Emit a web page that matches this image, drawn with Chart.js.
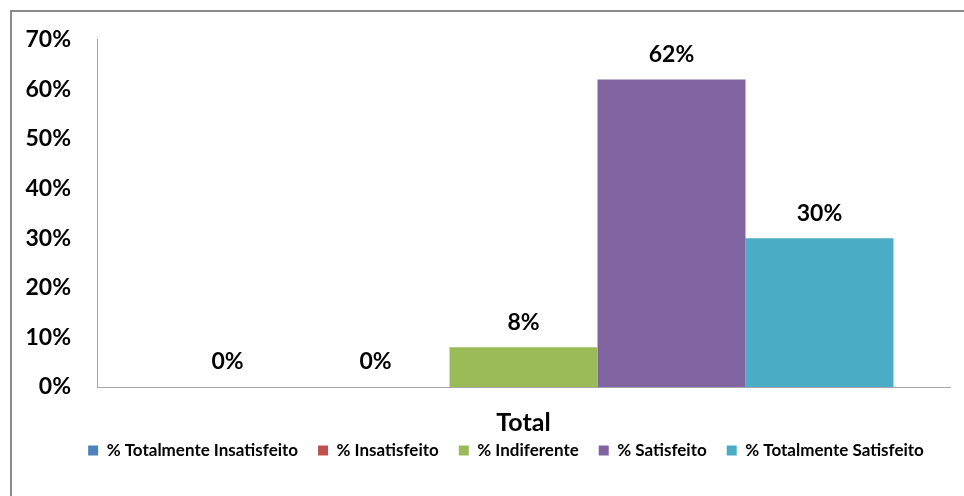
<!DOCTYPE html>
<html>
<head>
<meta charset="utf-8">
<script src="https://cdn.jsdelivr.net/npm/chart.js@4.4.1/dist/chart.umd.min.js"></script>
<style>
  html, body { margin: 0; padding: 0; background: #fff; overflow: hidden; }
  #frame {
    position: absolute; left: 10px; top: 10px;
    width: 1100px; height: 600px;
    border: 2px solid #8a8a8a;
  }
  #wrap { position: absolute; left: 12px; top: 0; width: 988px; height: 496px; }
</style>
</head>
<body>
<div id="frame"></div>
<div id="wrap"><canvas id="chartTotal" width="988" height="496"></canvas></div>
<script>
// categorias e séries
var categorias = ["Total"];
var series = ["% Totalmente Insatisfeito", "% Insatisfeito", "% Indiferente", "% Satisfeito", "% Totalmente Satisfeito"];
var valores = [0, 0, 8, 62, 30];
var cores = ["#4F81BD", "#C0504D", "#9BBB59", "#8064A2", "#4BACC6"];
var yTicks = [0, 10, 20, 30, 40, 50, 60, 70];

var fonte = "Lato, 'Open Sans', sans-serif";

// rótulo de valor em cima de cada barra
var rotulos = {
    id: "rotulos",
    afterDatasetsDraw: function(chart) {
        var ctx = chart.ctx;
        ctx.save();
        ctx.font = "bold 23px " + fonte;
        ctx.fillStyle = "#000";
        ctx.textAlign = "center";
        ctx.textBaseline = "middle";
        chart.data.datasets.forEach(function(ds, i) {
            var meta = chart.getDatasetMeta(i);
            meta.data.forEach(function(bar, j) {
                ctx.fillText(ds.data[j] + "%", bar.x, bar.y - 25);
            });
        });
        ctx.restore();
    }
};

// legenda centrada no canvas inteiro, logo abaixo do rótulo do eixo
var posLegenda = {
    id: "posLegenda",
    afterLayout: function(chart) {
        var lg = chart.legend;
        var h = lg.bottom - lg.top;
        lg.left = 0;
        lg.right = chart.width;
        lg.top = 422;
        lg.bottom = lg.top + h;
    }
};

var datasets = [];
for (var i = 0; i < series.length; i++) {
    datasets.push({
        label: series[i],
        data: [valores[i]],
        backgroundColor: cores[i],
        borderWidth: 0,
        categoryPercentage: 0.8675,
        barPercentage: 1
    });
}

var ctx_chart = document.getElementById("chartTotal").getContext("2d");
var chart = new Chart(ctx_chart, {
    type: "bar",
    data: { labels: categorias, datasets: datasets },
    plugins: [rotulos, posLegenda],
    options: {
        responsive: false,
        animation: false,
        layout: { padding: { top: 27, right: 50, bottom: 18, left: 0 } },
        plugins: {
            tooltip: { enabled: false },
            legend: {
                display: true,
                position: "bottom",
                labels: {
                    color: "#000",
                    boxWidth: 10,
                    boxHeight: 10,
                    padding: 20,
                    font: { family: fonte, size: 17, weight: "bold" }
                }
            }
        },
        scales: {
            x: {
                grid: { display: false, drawTicks: false },
                border: { display: true, color: "#a6a6a6", width: 1 },
                ticks: { color: "#000", padding: 21, font: { family: fonte, size: 25, weight: "bold" } },
                afterFit: function(scale) { scale.height = 44; }
            },
            y: {
                min: 0,
                max: 70,
                afterBuildTicks: function(scale) {
                    scale.ticks = yTicks.map(function(v) { return { value: v }; });
                },
                grid: { display: false, drawTicks: false },
                border: { display: true, color: "#a6a6a6", width: 1 },
                ticks: {
                    color: "#000",
                    padding: 26,
                    font: { family: fonte, size: 23, weight: "bold" },
                    callback: function(v) { return v + "%"; }
                },
                afterFit: function(scale) { scale.width = 85; }
            }
        }
    }
});
</script>
</body>
</html>
